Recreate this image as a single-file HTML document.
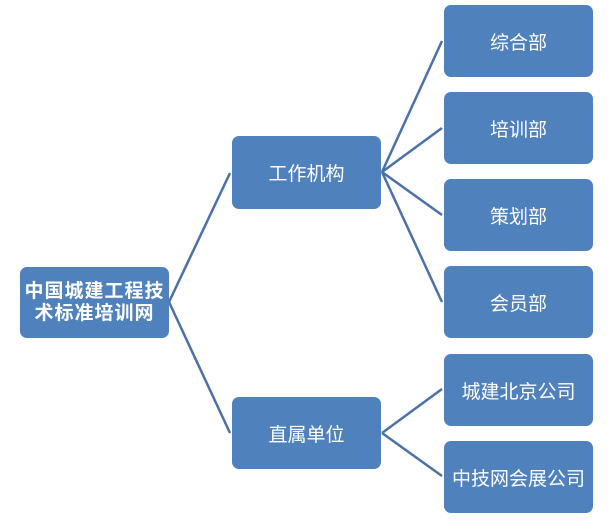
<!DOCTYPE html>
<html><head><meta charset="utf-8"><style>
body{margin:0;width:612px;height:519px;background:#fff;position:relative;overflow:hidden;font-family:"Liberation Sans","Noto Sans CJK SC",sans-serif}
.b{position:absolute;background:#4f81bd;border-radius:7px;color:#fff;display:flex;align-items:center;justify-content:center;text-align:center;font-size:19px}
svg{position:absolute;left:0;top:0}
</style></head><body>
<svg width="612" height="519"><g stroke="#4a71a8" stroke-width="2.5" fill="none">
<line x1="169" y1="302" x2="230" y2="173"/>
<line x1="169" y1="302" x2="230" y2="433"/>
<line x1="382" y1="172" x2="442" y2="41"/>
<line x1="382" y1="172" x2="442" y2="128"/>
<line x1="382" y1="172" x2="442" y2="215"/>
<line x1="382" y1="172" x2="442" y2="302"/>
<line x1="382" y1="433" x2="442" y2="389"/>
<line x1="382" y1="433" x2="442" y2="476"/>
</g></svg>
<div class="b" style="left:20px;top:267px;width:149px;height:71px;font-weight:bold;font-size:19px;letter-spacing:1px;line-height:22px">中国城建工程技<br>术标准培训网</div>
<div class="b" style="left:232px;top:136px;width:149px;height:73px">工作机构</div>
<div class="b" style="left:232px;top:397px;width:149px;height:72px">直属单位</div>
<div class="b" style="left:444px;top:5px;width:149px;height:72px">综合部</div>
<div class="b" style="left:444px;top:92px;width:149px;height:72px">培训部</div>
<div class="b" style="left:444px;top:179px;width:149px;height:72px">策划部</div>
<div class="b" style="left:444px;top:266px;width:149px;height:72px">会员部</div>
<div class="b" style="left:444px;top:354px;width:149px;height:72px">城建北京公司</div>
<div class="b" style="left:444px;top:441px;width:149px;height:72px">中技网会展公司</div>
</body></html>
